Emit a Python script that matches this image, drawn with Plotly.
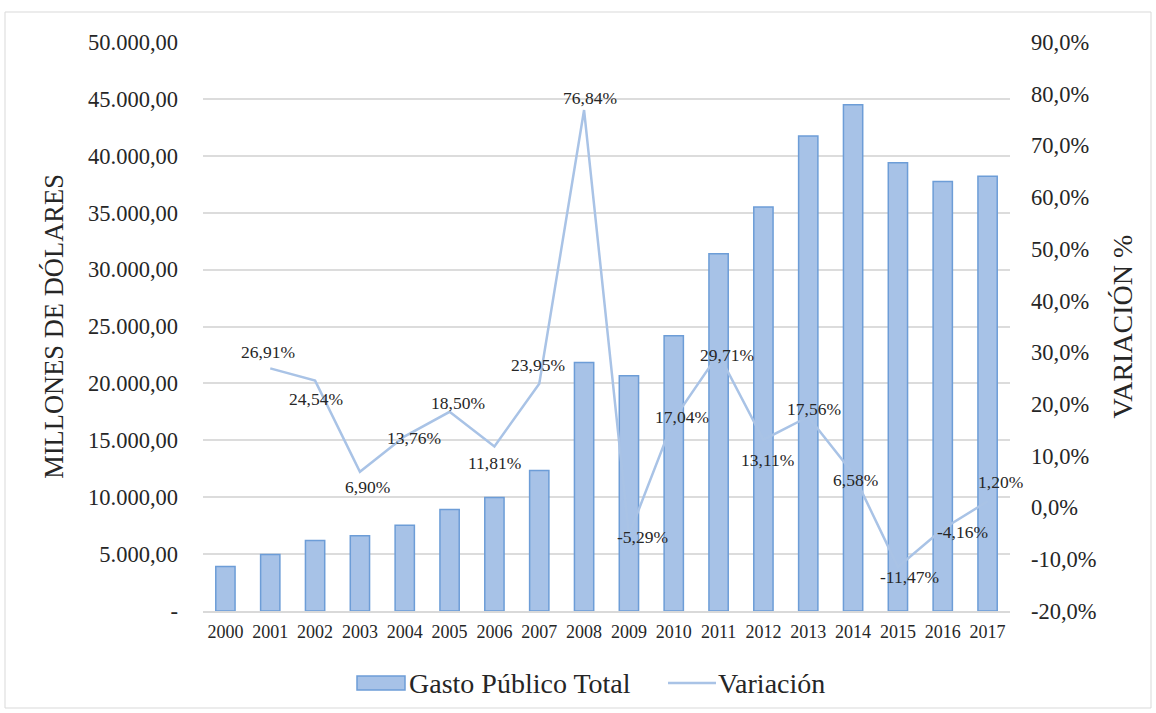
import plotly.graph_objects as go

# Gasto público total (millones de dólares) y su variación anual
years = [str(y) for y in range(2000, 2018)]
gasto = [3910, 4965, 6185, 6615, 7525, 8915, 9965, 12355, 21830, 20675,
         24195, 31385, 35500, 41730, 44480, 39380, 37740, 38195]
var_years = years[1:]
variacion = [26.91, 24.54, 6.90, 13.76, 18.50, 11.81, 23.95, 76.84, -5.29,
             17.04, 29.71, 13.11, 17.56, 6.58, -11.47, -4.16, 1.20]

left_ticks = list(range(0, 50001, 5000))
left_text = ["-"] + [f"{v:,.2f}".replace(",", "X").replace(".", ",").replace("X", ".")
                     for v in left_ticks[1:]]
right_ticks = list(range(-20, 91, 10))
right_text = [f"{v:.1f}%".replace(".", ",") for v in right_ticks]

# label offsets (px) for each variation label
label_dx = [-2, 1, 8, 9, 8, 0, -1, 6, 14, 8, 8, 4, 6, 2, 12, 20, 13]
label_dy = [16, -18, -15, -2, 9, -17, 19, 12, -2, 2, -1, -20, 8, -6, -10, -3, 19]

W, H = 1156, 713
L, R, T, B = 203, 1010, 42, 611
TXT = "#262626"
BAR_FILL, BAR_EDGE, LINE_C = "#a7c2e7", "#6d9dd7", "#a9c3e6"


def px_x(p):
    return (p - L) / (R - L)


def px_y(p):
    return (B - p) / (B - T)


fig = go.Figure()
fig.add_trace(go.Bar(
    x=years, y=gasto, name="Gasto Público Total",
    marker=dict(color=BAR_FILL, line=dict(color=BAR_EDGE, width=1.5)),
    width=0.43, yaxis="y", showlegend=False,
))
fig.add_trace(go.Scatter(
    x=var_years, y=variacion, name="Variación", mode="lines",
    line=dict(color=LINE_C, width=2.5), yaxis="y2", showlegend=False,
))

# category axis: annotations addressed by category index
for i, (v, dx, dy) in enumerate(zip(variacion, label_dx, label_dy), start=1):
    fig.add_annotation(
        x=i, y=v, yref="y2", xref="x",
        text=f"{v:.2f}%".replace(".", ","), showarrow=False,
        xshift=dx, yshift=dy,
        font=dict(family="Liberation Serif", size=17.5, color=TXT),
    )

# outer frame
fig.add_shape(type="rect", xref="paper", yref="paper",
              x0=px_x(5), x1=px_x(1151), y0=px_y(708), y1=px_y(12),
              line=dict(color="#d9d9d9", width=1), fillcolor="rgba(0,0,0,0)", layer="below")

# legend
fig.add_shape(type="rect", xref="paper", yref="paper",
              x0=px_x(357), x1=px_x(405), y0=px_y(690), y1=px_y(676),
              line=dict(color=BAR_EDGE, width=1.5), fillcolor=BAR_FILL)
fig.add_annotation(xref="paper", yref="paper", x=px_x(407), y=px_y(683),
                   xanchor="left", yanchor="middle", showarrow=False,
                   text="Gasto Público Total", font=dict(family="Liberation Serif", size=28, color=TXT))
fig.add_shape(type="line", xref="paper", yref="paper",
              x0=px_x(668), x1=px_x(716), y0=px_y(683), y1=px_y(683),
              line=dict(color=LINE_C, width=2.5))
fig.add_annotation(xref="paper", yref="paper", x=px_x(716), y=px_y(683),
                   xanchor="left", yanchor="middle", showarrow=False,
                   text="Variación", font=dict(family="Liberation Serif", size=28, color=TXT))

fig.update_layout(
    width=W, height=H,
    margin=dict(l=L, r=W - R, t=T, b=H - B, autoexpand=False),
    paper_bgcolor="white", plot_bgcolor="white",
    font=dict(family="Liberation Serif", color=TXT),
    showlegend=False,
    xaxis=dict(
        type="category", range=[-0.5, len(years) - 0.5], autorange=False,
        showgrid=False, ticks="",
        showline=True, linecolor="#d9d9d9", linewidth=1.5,
        tickfont=dict(size=18, color=TXT), ticklabelstandoff=4,
    ),
    yaxis=dict(
        range=[0, 50000], tickvals=left_ticks, ticktext=left_text,
        showgrid=True, gridcolor="#dcdcdc", gridwidth=1.5, zeroline=False,
        tickfont=dict(size=22.5, color=TXT), ticklabelstandoff=24,
        title=dict(text="MILLONES DE DÓLARES", font=dict(size=26.5, color=TXT),
                   standoff=16),
    ),
    yaxis2=dict(
        range=[-20, 90], tickvals=right_ticks, ticktext=right_text,
        overlaying="y", side="right", showgrid=False, zeroline=False,
        tickfont=dict(size=22.5, color=TXT), ticklabelstandoff=20,
        title=dict(text="VARIACIÓN %", font=dict(size=28, color=TXT),
                   standoff=16),
    ),
)

fig.write_html("out.html")
